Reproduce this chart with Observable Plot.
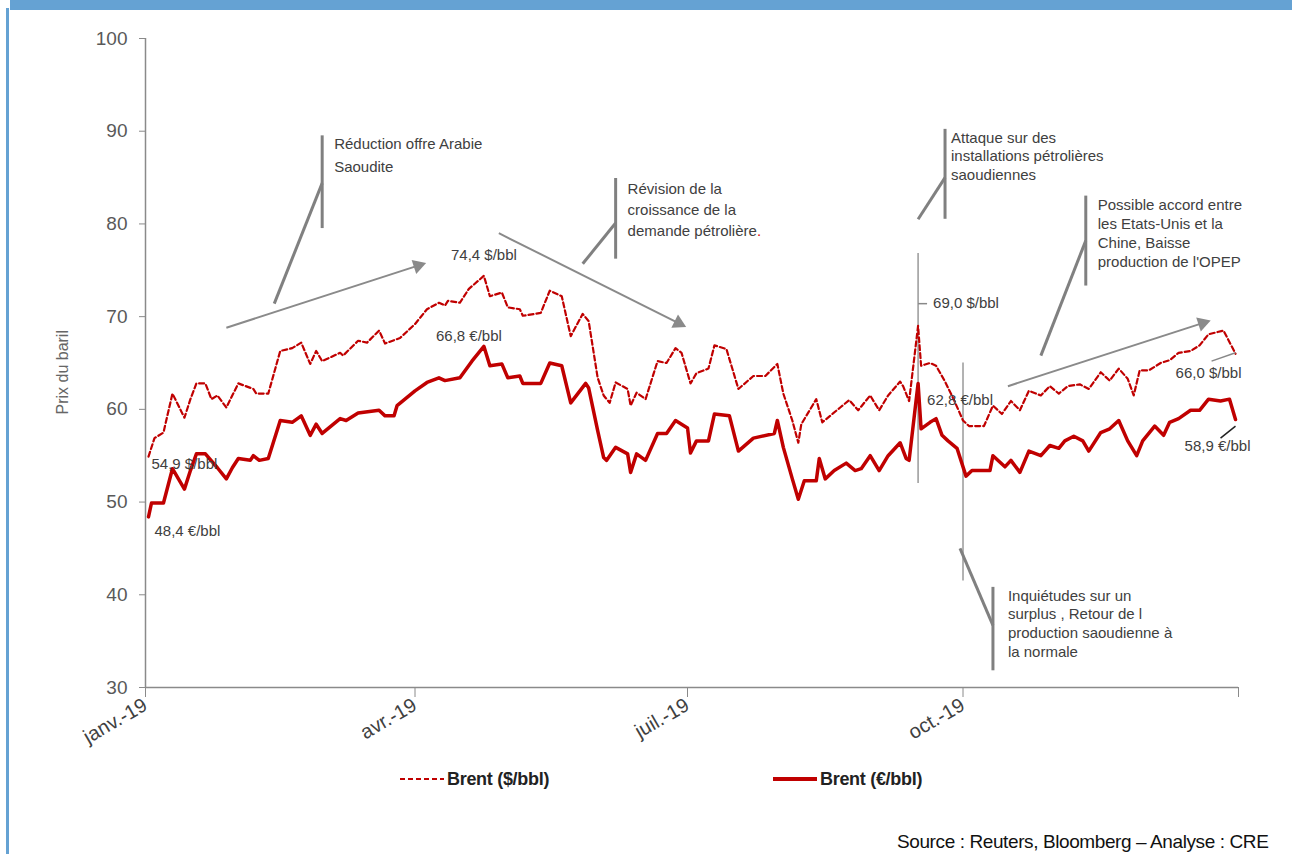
<!DOCTYPE html>
<html><head><meta charset="utf-8">
<script src="https://cdn.jsdelivr.net/npm/d3@7"></script>
<script src="https://cdn.jsdelivr.net/npm/@observablehq/plot@0.6"></script>
<style>
body{margin:0;background:#fff;font-family:"Liberation Sans",Arial,sans-serif;}
#wrap{position:relative;width:1292px;height:854px;overflow:hidden;}
#topbar{position:absolute;left:10px;top:0;width:1282px;height:10px;background:#65A2D3;}
#leftbar{position:absolute;left:6px;top:8px;width:3px;height:846px;background:#65A2D3;}
#chart{position:absolute;left:0;top:0;}
#legend{position:absolute;left:0;top:767px;width:1292px;height:24px;}
.li{position:absolute;top:0;display:flex;align-items:center;height:24px;font-weight:bold;font-size:18px;color:#222;letter-spacing:-0.3px;}
#source{position:absolute;left:897px;top:831px;font-size:19px;color:#111;white-space:nowrap;letter-spacing:-0.4px;}
</style></head>
<body><div id="wrap">
<div id="topbar"></div><div id="leftbar"></div>
<div id="chart"></div>
<div id="legend">
 <div class="li" style="left:400px"><svg width="47" height="10"><line x1="0" y1="5" x2="44" y2="5" stroke="#C00000" stroke-width="2.2" stroke-dasharray="5,3"/></svg>Brent ($/bbl)</div>
 <div class="li" style="left:773px"><svg width="47" height="10"><line x1="0" y1="5" x2="44" y2="5" stroke="#C00000" stroke-width="4"/></svg>Brent (€/bbl)</div>
</div>
<div id="source">Source : Reuters, Bloomberg – Analyse : CRE</div>
</div>
<script>
const usdDates = ["2019-01-02","2019-01-04","2019-01-07","2019-01-10","2019-01-14","2019-01-16","2019-01-18","2019-01-21","2019-01-23","2019-01-25","2019-01-28","2019-02-01","2019-02-06","2019-02-07","2019-02-11","2019-02-15","2019-02-19","2019-02-22","2019-02-25","2019-02-27","2019-03-01","2019-03-07","2019-03-08","2019-03-13","2019-03-16","2019-03-20","2019-03-22","2019-03-27","2019-04-01","2019-04-05","2019-04-09","2019-04-11","2019-04-12","2019-04-16","2019-04-19","2019-04-24","2019-04-26","2019-04-30","2019-05-02","2019-05-06","2019-05-07","2019-05-13","2019-05-16","2019-05-20","2019-05-23","2019-05-27","2019-05-29","2019-06-01","2019-06-03","2019-06-05","2019-06-07","2019-06-11","2019-06-12","2019-06-14","2019-06-17","2019-06-21","2019-06-24","2019-06-27","2019-06-29","2019-07-02","2019-07-04","2019-07-08","2019-07-10","2019-07-14","2019-07-18","2019-07-23","2019-07-27","2019-07-31","2019-08-02","2019-08-05","2019-08-07","2019-08-08","2019-08-13","2019-08-15","2019-08-21","2019-08-24","2019-08-27","2019-08-31","2019-09-03","2019-09-06","2019-09-10","2019-09-11","2019-09-13","2019-09-16","2019-09-17","2019-09-20","2019-09-22","2019-09-25","2019-09-28","2019-10-01","2019-10-03","2019-10-08","2019-10-11","2019-10-14","2019-10-17","2019-10-20","2019-10-23","2019-10-27","2019-10-30","2019-11-02","2019-11-05","2019-11-09","2019-11-12","2019-11-16","2019-11-19","2019-11-22","2019-11-25","2019-11-27","2019-11-29","2019-12-02","2019-12-06","2019-12-09","2019-12-12","2019-12-16","2019-12-19","2019-12-22","2019-12-27","2019-12-31"];
const usdValues = [54.9,56.9,57.5,61.7,59.1,61.1,62.8,62.8,61.1,61.5,60.2,62.8,62.2,61.7,61.7,66.3,66.6,67.2,64.9,66.3,65.2,66.1,65.8,67.4,67.2,68.5,67.1,67.7,69.2,70.8,71.5,71.2,71.7,71.5,73.0,74.4,72.2,72.6,71.0,70.8,70.1,70.4,72.8,72.2,67.9,70.3,69.5,63.4,61.5,60.7,62.9,62.2,60.4,61.8,61.1,65.2,65.0,66.6,66.1,62.8,63.9,64.4,66.9,66.5,62.2,63.6,63.6,64.9,61.7,58.8,56.4,58.4,61.1,58.6,60.2,61.0,59.9,61.5,59.9,61.5,63.0,62.5,60.9,69.0,64.7,65.0,64.7,63.0,61.0,58.8,58.2,58.2,60.4,59.5,60.9,59.9,62.0,61.5,62.5,61.7,62.5,62.7,62.2,64.0,63.1,64.4,63.3,61.5,64.2,64.2,65.0,65.3,66.1,66.3,66.9,68.1,68.5,66.0];
const eurDates = ["2019-01-02","2019-01-03","2019-01-07","2019-01-10","2019-01-14","2019-01-16","2019-01-18","2019-01-21","2019-01-25","2019-01-28","2019-01-30","2019-02-01","2019-02-05","2019-02-06","2019-02-08","2019-02-11","2019-02-15","2019-02-19","2019-02-22","2019-02-25","2019-02-27","2019-03-01","2019-03-07","2019-03-09","2019-03-13","2019-03-20","2019-03-22","2019-03-25","2019-03-26","2019-04-01","2019-04-05","2019-04-09","2019-04-11","2019-04-16","2019-04-20","2019-04-24","2019-04-26","2019-04-30","2019-05-02","2019-05-06","2019-05-07","2019-05-13","2019-05-16","2019-05-20","2019-05-23","2019-05-28","2019-05-29","2019-06-01","2019-06-03","2019-06-04","2019-06-07","2019-06-11","2019-06-12","2019-06-14","2019-06-17","2019-06-21","2019-06-24","2019-06-27","2019-07-01","2019-07-02","2019-07-04","2019-07-08","2019-07-10","2019-07-15","2019-07-18","2019-07-23","2019-07-30","2019-07-31","2019-08-02","2019-08-05","2019-08-07","2019-08-09","2019-08-13","2019-08-14","2019-08-16","2019-08-19","2019-08-23","2019-08-26","2019-08-28","2019-08-31","2019-09-03","2019-09-06","2019-09-10","2019-09-12","2019-09-13","2019-09-16","2019-09-17","2019-09-20","2019-09-22","2019-09-24","2019-09-26","2019-09-29","2019-10-02","2019-10-04","2019-10-10","2019-10-11","2019-10-15","2019-10-17","2019-10-20","2019-10-23","2019-10-27","2019-10-30","2019-11-02","2019-11-04","2019-11-07","2019-11-10","2019-11-12","2019-11-16","2019-11-19","2019-11-22","2019-11-25","2019-11-28","2019-11-30","2019-12-04","2019-12-07","2019-12-09","2019-12-12","2019-12-16","2019-12-19","2019-12-22","2019-12-26","2019-12-29","2019-12-31"];
const eurValues = [48.4,49.9,49.9,53.6,51.4,53.4,55.2,55.2,53.7,52.5,53.7,54.7,54.5,55.0,54.5,54.7,58.8,58.6,59.3,57.2,58.4,57.4,59.0,58.8,59.6,59.9,59.3,59.3,60.4,62.0,62.9,63.4,63.1,63.4,65.2,66.8,64.7,64.9,63.4,63.6,62.8,62.8,65.0,64.7,60.7,62.8,62.3,57.7,54.8,54.5,55.9,55.2,53.2,55.2,54.5,57.4,57.4,58.8,58.0,55.3,56.6,56.6,59.5,59.3,55.5,56.9,57.4,58.8,55.9,52.5,50.3,52.3,52.3,54.7,52.5,53.4,54.2,53.4,53.6,55.0,53.4,55.0,56.4,54.7,54.5,62.8,57.9,58.6,59.0,57.2,56.6,55.8,52.8,53.4,53.4,55.0,53.8,54.5,53.2,55.5,55.0,56.1,55.8,56.6,57.1,56.6,55.5,57.5,57.9,58.8,56.6,55.0,56.6,58.2,57.2,58.6,59.0,59.9,59.9,61.1,60.9,61.1,58.9];

const yTicks = [30,40,50,60,70,80,90,100];
const xTickDates = ["2019-01-01","2019-04-01","2019-07-01","2019-10-01","2020-01-01"];
const xTickLabels = ["janv.-19","avr.-19","juil.-19","oct.-19",""];

// annotations (data coordinates)
const trendArrows = [
  {x1:"2019-01-28", y1:68.8, x2:"2019-04-02", y2:75.5},
  {x1:"2019-04-29", y1:79.0, x2:"2019-06-28", y2:69.3},
  {x1:"2019-10-16", y1:62.5, x2:"2019-12-20", y2:69.3}
];
const calloutBars = [
  {x:"2019-03-01", y1:89.5, y2:79.5},
  {x:"2019-06-07", y1:84.9, y2:76.2},
  {x:"2019-09-25", y1:90.2, y2:80.5},
  {x:"2019-10-11", y1:40.8, y2:31.8},
  {x:"2019-11-11", y1:83.0, y2:73.3}
];
const calloutLegs = [
  {x1:"2019-02-13", y1:71.4, x2:"2019-03-01", y2:84.4},
  {x1:"2019-05-27", y1:75.7, x2:"2019-06-07", y2:80.1},
  {x1:"2019-09-16", y1:80.5, x2:"2019-09-25", y2:85.0},
  {x1:"2019-09-30", y1:45.0, x2:"2019-10-11", y2:36.7},
  {x1:"2019-10-27", y1:65.8, x2:"2019-11-11", y2:78.2}
];
const calloutTexts = [
  {x:"2019-03-05", y:89.8, text:"Réduction offre Arabie\nSaoudite", lh:1.5},
  {x:"2019-06-11", y:84.8, text:"Révision de la\ncroissance de la\ndemande pétrolière.", lh:1.38},
  {x:"2019-09-27", y:90.2, text:"Attaque sur des\ninstallations pétrolières\nsaoudiennes", lh:1.25},
  {x:"2019-10-16", y:40.8, text:"Inquiétudes sur un\nsurplus , Retour de l\nproduction saoudienne à\nla normale", lh:1.25},
  {x:"2019-11-15", y:83.0, text:"Possible accord entre\nles Etats-Unis et la\nChine, Baisse\nproduction de l'OPEP", lh:1.27}
];
const eventLines = [
  {x:"2019-09-16", y1:76.8, y2:52.0},
  {x:"2019-10-01", y1:65.0, y2:41.5}
];
const valueLabels = [
  {x:"2019-04-13", y:76.6, text:"74,4 $/bbl"},
  {x:"2019-04-08", y:67.9, text:"66,8 €/bbl"},
  {x:"2019-01-03", y:54.1, text:"54,9 $/bbl"},
  {x:"2019-01-04", y:46.9, text:"48,4 €/bbl"},
  {x:"2019-09-21", y:71.4, text:"69,0 $/bbl"},
  {x:"2019-09-19", y:61.0, text:"62,8 €/bbl"},
  {x:"2019-12-11", y:63.9, text:"66,0 $/bbl"},
  {x:"2019-12-14", y:56.0, text:"58,9 €/bbl"}
];
const labelLeaders = [
  {x1:"2019-09-16", y1:71.4, x2:"2019-09-19", y2:71.4, c:"#888"},
  {x1:"2019-12-23", y1:65.2, x2:"2019-12-31", y2:66.1, c:"#888"},
  {x1:"2019-12-26", y1:56.9, x2:"2019-12-31", y2:58.2, c:"#222"}
];

const P = s => new Date(s + "T00:00:00Z");
const usd = usdDates.map((d,i)=>({date:P(d), v:usdValues[i]}));
const eur = eurDates.map((d,i)=>({date:P(d), v:eurValues[i]}));
const P2 = a => a.map(o => ({...o, x:o.x?P(o.x):undefined, x1:o.x1?P(o.x1):undefined, x2:o.x2?P(o.x2):undefined}));
const tickMap = new Map(xTickDates.map((d,i)=>[+P(d), xTickLabels[i]]));

const gray = "#8a8a8a";
const txt = "#404040";
const arrows = P2(trendArrows);

function makeChart(headAngles) {
  const marks = [
    Plot.ruleX([P("2019-01-01")], {y1:30, y2:100, stroke:gray, strokeWidth:1.5}),
    Plot.ruleY([30], {stroke:gray, strokeWidth:1.5}),
    Plot.axisY({ticks:yTicks, tickSize:6, tickPadding:12, fontSize:19, stroke:gray, fill:"#595959", label:null}),
    Plot.axisX({ticks:xTickDates.map(P), tickFormat:d=>tickMap.get(+d), tickSize:10, tickPadding:6, tickRotate:-30, fontSize:20, stroke:gray, fill:"#404040", label:null}),
    Plot.text(["Prix du baril"], {frameAnchor:"left", textAnchor:"middle", y:()=>64.0, dx:-83, rotate:-90, fontSize:16, fill:"#666"}),
    Plot.ruleX(P2(eventLines), {x:"x", y1:"y1", y2:"y2", stroke:"#999", strokeWidth:1.5}),
    Plot.line(usd, {x:"date", y:"v", stroke:"#C00000", strokeWidth:2.2, strokeDasharray:"5,3"}),
    Plot.line(eur, {x:"date", y:"v", stroke:"#C00000", strokeWidth:3.5}),
    Plot.link(arrows, {x1:"x1", y1:"y1", x2:"x2", y2:"y2", stroke:gray, strokeWidth:2}),
    Plot.ruleX(P2(calloutBars), {x:"x", y1:"y1", y2:"y2", stroke:"#808080", strokeWidth:3}),
    Plot.link(P2(calloutLegs), {x1:"x1", y1:"y1", x2:"x2", y2:"y2", stroke:"#808080", strokeWidth:3}),
    Plot.link(P2(labelLeaders), {x1:"x1", y1:"y1", x2:"x2", y2:"y2", stroke:"c", strokeWidth:1.5}),
    ...calloutTexts.map(c => Plot.text([c], {x:d=>P(d.x), y:"y", text:"text", textAnchor:"start", lineAnchor:"top", lineHeight:c.lh, fontSize:15, fill:txt, letterSpacing:-0.35})),
    Plot.text(valueLabels, {x:d=>P(d.x), y:"y", text:"text", textAnchor:"start", fontSize:15, fill:txt, letterSpacing:-0.2})
  ];
  if (headAngles) {
    marks.push(Plot.dot(arrows.map((a,i)=>({...a, ang:headAngles[i]})), {x:"x2", y:"y2", symbol:"triangle", r:5.5, fill:gray, stroke:"none", rotate:"ang"}));
  }
  return Plot.plot({
    width:1292, height:760,
    marginLeft:145, marginRight:54, marginTop:38, marginBottom:73,
    x:{type:"utc", domain:[P("2019-01-01"), P("2020-01-01")]},
    y:{domain:[30,100]},
    style:{fontFamily:"'Liberation Sans', Arial, sans-serif", background:"transparent", overflow:"visible"},
    marks
  });
}

const probe = makeChart(null);
const sx = probe.scale("x"), sy = probe.scale("y");
const angles = arrows.map(a => {
  const dx = sx.apply(a.x2) - sx.apply(a.x1);
  const dy = sy.apply(a.y2) - sy.apply(a.y1);
  return Math.atan2(dx, -dy) * 180 / Math.PI;
});
const chart = makeChart(angles);
document.getElementById("chart").appendChild(chart);

// colour the final full stop of "demande pétrolière." red
d3.select(chart).selectAll("tspan").each(function() {
  const t = this.textContent;
  if (t === "demande pétrolière.") {
    this.textContent = "demande pétrolière";
    d3.select(this).append("tspan").attr("fill", "#E00000").text(".");
  }
});
</script>
</body></html>
